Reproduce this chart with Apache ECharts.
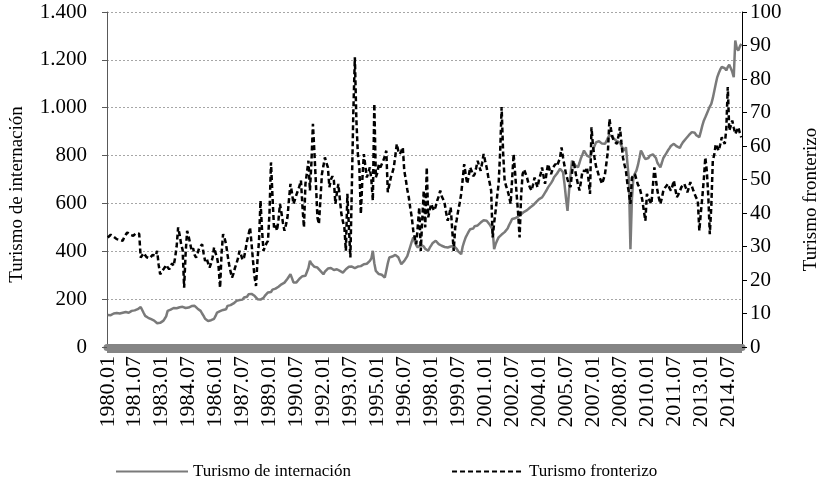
<!DOCTYPE html>
<html>
<head>
<meta charset="utf-8">
<script src="https://cdn.jsdelivr.net/npm/echarts@6/dist/echarts.min.js"></script>
<style>
  html, body { margin: 0; padding: 0; background: #fff; }
  #main { width: 829px; height: 492px; }
</style>
</head>
<body>
<div id="main"></div>
<script>
// monthly labels 1980.01 .. 2015.04
const months = [];
for (let y = 1980; y <= 2015; y++) {
  for (let m = 1; m <= 12; m++) {
    if (y === 2015 && m > 4) break;
    months.push(y + '.' + (m < 10 ? '0' + m : m));
  }
}

// Turismo de internación (left axis), one row per year
const internacion = [
  134, 136, 133, 138, 140, 139, 142, 144, 140, 138, 143, 137,
  146, 148, 143, 147, 151, 149, 153, 150, 158, 155, 167, 160,
  142, 130, 128, 122, 125, 116, 118, 110, 106, 99, 103, 101,
  105, 109, 118, 128, 151, 148, 156, 160, 163, 167, 162, 168,
  166, 172, 168, 170, 163, 167, 165, 169, 171, 166, 172, 168,
  160, 155, 151, 140, 130, 118, 112, 109, 105, 112, 108, 118,
  130, 144, 140, 150, 148, 155, 160, 158, 172, 168, 175, 178,
  182, 186, 193, 189, 196, 200, 198, 207, 212, 210, 220, 227,
  222, 218, 214, 208, 200, 196, 198, 193, 205, 215, 222, 228,
  234, 230, 240, 238, 244, 248, 252, 256, 262, 258, 269, 275,
  285, 292, 304, 288, 270, 262, 270, 278, 285, 290, 296, 300,
  298, 304, 330, 360, 348, 340, 335, 338, 332, 326, 318, 312,
  304, 315, 322, 328, 332, 330, 326, 322, 328, 325, 320, 318,
  314, 311, 318, 325, 330, 335, 339, 336, 333, 330, 332, 336,
  340, 338, 342, 346, 350, 348, 355, 360, 370, 402, 350, 318,
  310, 305, 300, 302, 297, 290, 320, 350, 374, 370, 378, 382,
  385, 388, 375, 360, 346, 352, 360, 367, 380, 400, 420, 440,
  458, 440, 425, 416, 422, 428, 430, 420, 410, 405, 402, 415,
  425, 435, 440, 444, 438, 430, 425, 423, 420, 418, 412, 416,
  416, 420, 425, 422, 423, 410, 400, 395, 388, 420, 440, 458,
  470, 482, 492, 500, 495, 505, 510, 508, 514, 520, 528, 530,
  535, 528, 520, 512, 507, 490, 409, 430, 445, 458, 462, 470,
  475, 480, 486, 495, 510, 522, 535, 540, 538, 542, 545, 550,
  555, 560, 565, 569, 572, 578, 583, 588, 592, 597, 605, 612,
  618, 622, 625, 635, 645, 655, 667, 675, 685, 695, 709, 715,
  725, 735, 745, 751, 730, 681, 620, 569, 650, 720, 779, 770,
  760, 755, 751, 770, 790, 805, 821, 815, 800, 795, 793, 810,
  825, 840, 855, 863, 860, 855, 850, 852, 849, 860, 875, 885,
  890, 880, 870, 865, 860, 863, 855, 840, 830, 821, 835, 842,
  700, 409, 620, 709, 725, 737, 760, 790, 821, 810, 795, 785,
  779, 790, 800, 795, 805, 807, 790, 770, 760, 751, 770, 790,
  800, 810, 821, 830, 840, 845, 849, 842, 838, 835, 832, 845,
  855, 860, 870, 877, 885, 890, 898, 904, 895, 885, 880, 877,
  900, 925, 946, 960, 975, 990, 1005, 1016, 1040, 1070, 1100, 1128,
  1145, 1160, 1170, 1177, 1165, 1156, 1170, 1180, 1184, 1150, 1128, 1281,
  1250, 1239, 1255, 1267
];

// Turismo fronterizo (right axis), one row per year
const fronterizo = [
  32.7, 33.0, 33.5, 33.2, 32.9, 32.5, 32.2, 32.7, 32.0, 31.5, 31.7, 32.8,
  33.5, 34.2, 33.8, 33.5, 33.9, 33.2, 33.6, 34.0, 34.2, 33.8, 26.7, 27.2,
  28.0, 27.7, 26.8, 27.2, 26.5, 26.2, 27.5, 28.0, 27.2, 28.7, 24.5, 21.7,
  22.5, 23.0, 23.7, 24.5, 23.8, 23.2, 24.0, 25.0, 24.2, 26.7, 30.0, 35.7,
  33.5, 30.7, 29.0, 17.7, 28.0, 34.7, 33.0, 31.0, 28.7, 29.5, 27.5, 26.7,
  28.0, 29.5, 30.0, 30.7, 28.0, 25.7, 26.5, 25.0, 23.7, 25.0, 26.7, 29.7,
  28.0, 26.7, 24.0, 17.7, 28.0, 33.7, 32.5, 30.7, 27.5, 24.7, 22.5, 20.7,
  22.0, 23.7, 25.0, 26.5, 28.7, 27.5, 26.0, 26.7, 29.0, 31.7, 33.5, 35.7,
  31.0, 25.7, 21.0, 18.2, 26.0, 31.7, 43.7, 35.0, 28.7, 30.0, 31.0, 31.7,
  40.0, 55.1, 45.0, 35.7, 36.5, 34.7, 38.0, 42.7, 40.0, 37.0, 34.7, 36.5,
  38.7, 44.0, 48.7, 46.0, 42.7, 44.0, 45.5, 46.7, 48.0, 49.7, 42.0, 35.7,
  48.7, 52.0, 55.6, 46.7, 55.0, 66.6, 58.0, 48.7, 38.7, 36.7, 44.0, 51.6,
  54.0, 56.6, 55.0, 53.6, 47.7, 50.0, 51.0, 49.7, 42.7, 46.0, 48.7, 44.0,
  39.7, 37.5, 35.7, 28.7, 45.7, 36.0, 26.7, 48.0, 70.6, 86.5, 68.0, 57.6,
  53.6, 39.7, 50.0, 57.6, 54.0, 50.6, 52.0, 53.6, 50.0, 43.7, 72.6, 50.6,
  52.0, 54.5, 53.6, 54.0, 55.6, 57.0, 58.6, 46.2, 48.5, 50.6, 52.0, 53.6,
  57.0, 60.6, 58.5, 57.6, 58.5, 59.6, 52.6, 50.0, 47.0, 44.7, 41.5, 38.7,
  34.7, 32.5, 30.7, 36.0, 41.7, 28.7, 38.0, 46.7, 35.7, 53.6, 38.7, 41.0,
  42.7, 41.5, 40.7, 42.0, 43.7, 45.0, 46.7, 45.0, 44.0, 42.7, 40.0, 37.7,
  39.5, 41.7, 35.0, 28.7, 35.7, 38.0, 40.7, 43.0, 45.7, 50.0, 54.6, 51.5,
  48.7, 51.0, 53.6, 52.5, 51.0, 51.6, 53.5, 55.6, 54.0, 52.6, 55.0, 57.6,
  55.5, 53.6, 51.0, 49.0, 46.7, 32.7, 37.0, 40.7, 45.0, 48.7, 58.0, 71.6,
  58.0, 49.7, 48.0, 46.7, 45.0, 42.7, 50.0, 57.6, 52.0, 45.7, 40.0, 32.7,
  45.0, 51.6, 53.0, 52.6, 50.5, 48.7, 47.5, 46.7, 48.5, 50.6, 49.0, 47.7,
  50.0, 51.5, 53.6, 51.0, 48.7, 52.0, 54.6, 53.0, 51.6, 53.0, 54.0, 54.6,
  54.0, 53.6, 56.5, 59.6, 56.6, 54.0, 51.6, 50.0, 48.5, 47.7, 52.0, 55.6,
  53.0, 50.6, 48.5, 46.7, 49.5, 52.6, 53.0, 52.5, 53.6, 50.0, 45.7, 65.6,
  60.0, 56.6, 54.0, 52.6, 51.0, 50.0, 48.7, 50.0, 51.6, 55.0, 58.6, 68.1,
  65.0, 62.6, 61.5, 61.0, 60.6, 63.0, 65.6, 61.0, 56.6, 54.5, 52.6, 48.7,
  46.0, 42.7, 50.6, 51.0, 51.6, 50.0, 48.5, 47.7, 46.0, 43.7, 40.5, 37.7,
  45.7, 44.5, 43.5, 42.7, 48.0, 53.6, 50.0, 46.7, 44.5, 42.7, 44.5, 46.7,
  47.5, 48.0, 48.7, 47.5, 46.7, 48.0, 49.7, 47.0, 44.7, 45.5, 46.5, 47.7,
  48.0, 48.7, 47.5, 46.2, 47.5, 49.2, 48.0, 46.7, 45.5, 44.5, 43.7, 34.7,
  40.0, 44.7, 50.0, 56.6, 52.6, 45.0, 33.7, 42.0, 55.6, 57.5, 60.6, 59.5,
  58.6, 60.5, 62.6, 61.5, 60.6, 65.0, 77.6, 64.6, 66.0, 67.6, 65.5, 63.6,
  64.5, 65.6, 64.0, 62.6
];

const font = '"Liberation Serif", "Times New Roman", serif';

var myChart = echarts.init(document.getElementById('main'));
myChart.setOption({
  animation: false,
  grid: { left: 107, right: 86, top: 12, bottom: 145 },
  legend: {
    left: 110,
    top: 458,
    itemWidth: 72,
    itemHeight: 14,
    itemGap: 100,
    itemStyle: { opacity: 0 },
    textStyle: { fontFamily: font, fontSize: 17, color: '#000' },
    data: ['Turismo de internación', 'Turismo fronterizo']
  },
  xAxis: {
    type: 'category',
    data: months,
    axisLine: { show: true, onZero: false, lineStyle: { color: '#858585', width: 7 } },
    axisTick: { show: false },
    axisLabel: {
      interval: 17,
      rotate: 90,
      fontFamily: font,
      fontSize: 22,
      color: '#000',
      margin: 9
    },
    splitLine: { show: false }
  },
  yAxis: [
    {
      type: 'value',
      name: 'Turismo de internación',
      nameLocation: 'middle',
      nameRotate: 90,
      nameGap: 80,
      nameTextStyle: { fontFamily: font, fontSize: 19, color: '#000', padding: [0, 30, 0, 0] },
      min: 0,
      max: 1400,
      interval: 200,
      axisLine: { show: true, lineStyle: { color: '#595959' } },
      axisTick: { show: true, length: 5, lineStyle: { color: '#595959' } },
      axisLabel: {
        fontFamily: font,
        fontSize: 21,
        color: '#000',
        margin: 20,
        formatter: v => String(v).replace(/\B(?=(\d{3})+(?!\d))/g, '.')
      },
      splitLine: { lineStyle: { color: '#a6a6a6', type: [2, 2] } }
    },
    {
      type: 'value',
      name: 'Turismo fronterizo',
      nameLocation: 'middle',
      nameRotate: 90,
      nameGap: 60,
      nameTextStyle: { fontFamily: font, fontSize: 19, color: '#000', padding: [0, 40, 0, 0] },
      min: 0,
      max: 100,
      interval: 10,
      axisLine: { show: true, lineStyle: { color: '#000' } },
      axisTick: { show: true, length: 5, lineStyle: { color: '#000' } },
      axisLabel: { fontFamily: font, fontSize: 21, color: '#000', margin: 8 },
      splitLine: { show: false }
    }
  ],
  series: [
    {
      name: 'Turismo de internación',
      type: 'line',
      data: internacion,
      symbol: 'none',
      lineStyle: { color: '#7a7a7a', width: 2.5 },
      itemStyle: { color: '#7a7a7a' },
      z: 2
    },
    {
      name: 'Turismo fronterizo',
      type: 'line',
      data: fronterizo,
      yAxisIndex: 1,
      symbol: 'none',
      lineStyle: { color: '#000', width: 2.5, type: [5, 3] },
      itemStyle: { color: '#000' },
      z: 3
    }
  ]
});

// grey band along the category axis, placed from the axis scale
const p0 = myChart.convertToPixel({ gridIndex: 0 }, [0, 0]);
const p1 = myChart.convertToPixel({ gridIndex: 0 }, [months.length - 1, 0]);
const half = (p1[0] - p0[0]) / (months.length - 1) / 2;
myChart.setOption({
  graphic: [{
    type: 'rect',
    z: 100,
    silent: true,
    shape: { x: p0[0] - half, y: p0[1] - 1, width: p1[0] - p0[0] + 2 * half, height: 7 },
    style: { fill: '#858585' }
  }]
});
</script>
</body>
</html>
